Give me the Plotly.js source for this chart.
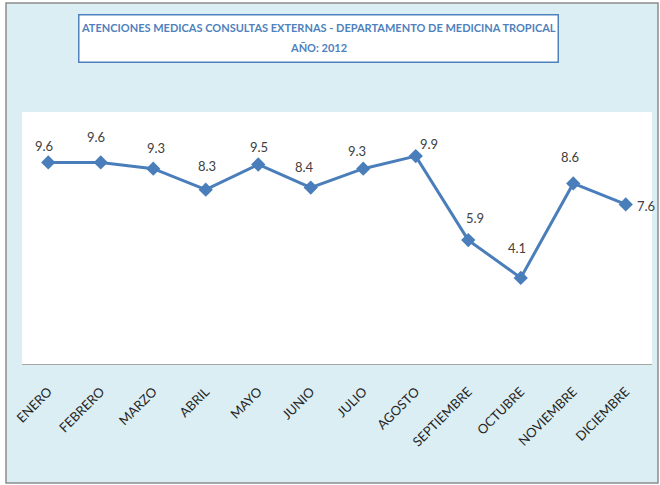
<!DOCTYPE html>
<html>
<head>
<meta charset="utf-8">
<script src="https://cdn.plot.ly/plotly-3.0.1.min.js"></script>
<style>html,body{margin:0;padding:0;background:#fff;}#chart{width:660px;height:485px;}</style>
</head>
<body>
<div id="chart"></div>
<script>
const months = ["ENERO","FEBRERO","MARZO","ABRIL","MAYO","JUNIO","JULIO","AGOSTO","SEPTIEMBRE","OCTUBRE","NOVIEMBRE","DICIEMBRE"];
const values = [9.6, 9.6, 9.3, 8.3, 9.5, 8.4, 9.3, 9.9, 5.9, 4.1, 8.6, 7.6];
const titleLines = ["ATENCIONES MEDICAS CONSULTAS EXTERNAS - DEPARTAMENTO DE MEDICINA TROPICAL", "AÑO: 2012"];
const labelDx = [-4, -5, 3, 1, 1, -6, -6, 13, 7, -4, -3, 20];
const labelDy = [-16, -25, -21, -24, -18, -21, -18, -12, -22, -30, -26, 2];

const fnt = 'Lato, "DejaVu Sans Condensed", Arial, sans-serif';

const trace = {
  x: months,
  y: values,
  type: 'scatter',
  mode: 'lines+markers',
  line: {color: '#4a7ebb', width: 3},
  marker: {symbol: 'diamond', size: 11, color: '#4a7ebb'},
  hoverinfo: 'x+y'
};

const annotations = months.map((m, i) => ({
  x: m, y: values[i], xref: 'x', yref: 'y',
  text: values[i].toFixed(1),
  showarrow: false,
  xshift: labelDx[i], yshift: -labelDy[i],
  font: {family: fnt, size: 13, color: '#404040'}
}));

const py = p => (364 - p) / 252;
const px = p => (p - 22) / 630;

annotations.push({
  xref: 'paper', yref: 'paper',
  x: px(318), y: py(39),
  xanchor: 'center', yanchor: 'middle',
  width: 478, height: 46,
  text: ' ',
  showarrow: false,
  bgcolor: '#ffffff',
  bordercolor: '#4f81bd',
  borderwidth: 1.5,
  borderpad: 0
});
const titleY = [27, 47];
titleLines.forEach((t, i) => annotations.push({
  xref: 'paper', yref: 'paper',
  x: px(318), y: py(titleY[i]),
  xanchor: 'center', yanchor: 'middle',
  text: '<b>' + t + '</b>',
  showarrow: false,
  font: {family: fnt, size: 11, color: '#4f81bd'}
}));

const layout = {
  width: 660, height: 485,
  margin: {l: 22, r: 8, t: 112, b: 121},
  paper_bgcolor: '#ffffff',
  plot_bgcolor: 'rgba(0,0,0,0)',
  showlegend: false,
  xaxis: {
    type: 'category',
    range: [-0.5, 11.5],
    showline: true, linecolor: '#a6a6a6', linewidth: 1,
    showgrid: false, zeroline: false,
    ticks: '', tickangle: -45,
    ticklabelstandoff: 14,
    tickfont: {family: fnt, size: 13, color: '#262626'}
  },
  yaxis: {
    range: [0, 12],
    showline: false, showgrid: false, zeroline: false,
    showticklabels: false, ticks: ''
  },
  shapes: [
    {type: 'rect', xref: 'paper', yref: 'paper', layer: 'below',
     x0: px(6), x1: px(658),
     y0: py(483), y1: py(3),
     fillcolor: '#dbeef4', line: {color: '#8c8c8c', width: 1.5}},
    {type: 'rect', xref: 'paper', yref: 'paper', layer: 'below',
     x0: 0, x1: 1, y0: 0, y1: 1,
     fillcolor: '#ffffff', line: {width: 0}}
  ],
  annotations: annotations
};

Plotly.newPlot('chart', [trace], layout, {displayModeBar: false, staticPlot: true});
</script>
</body>
</html>
